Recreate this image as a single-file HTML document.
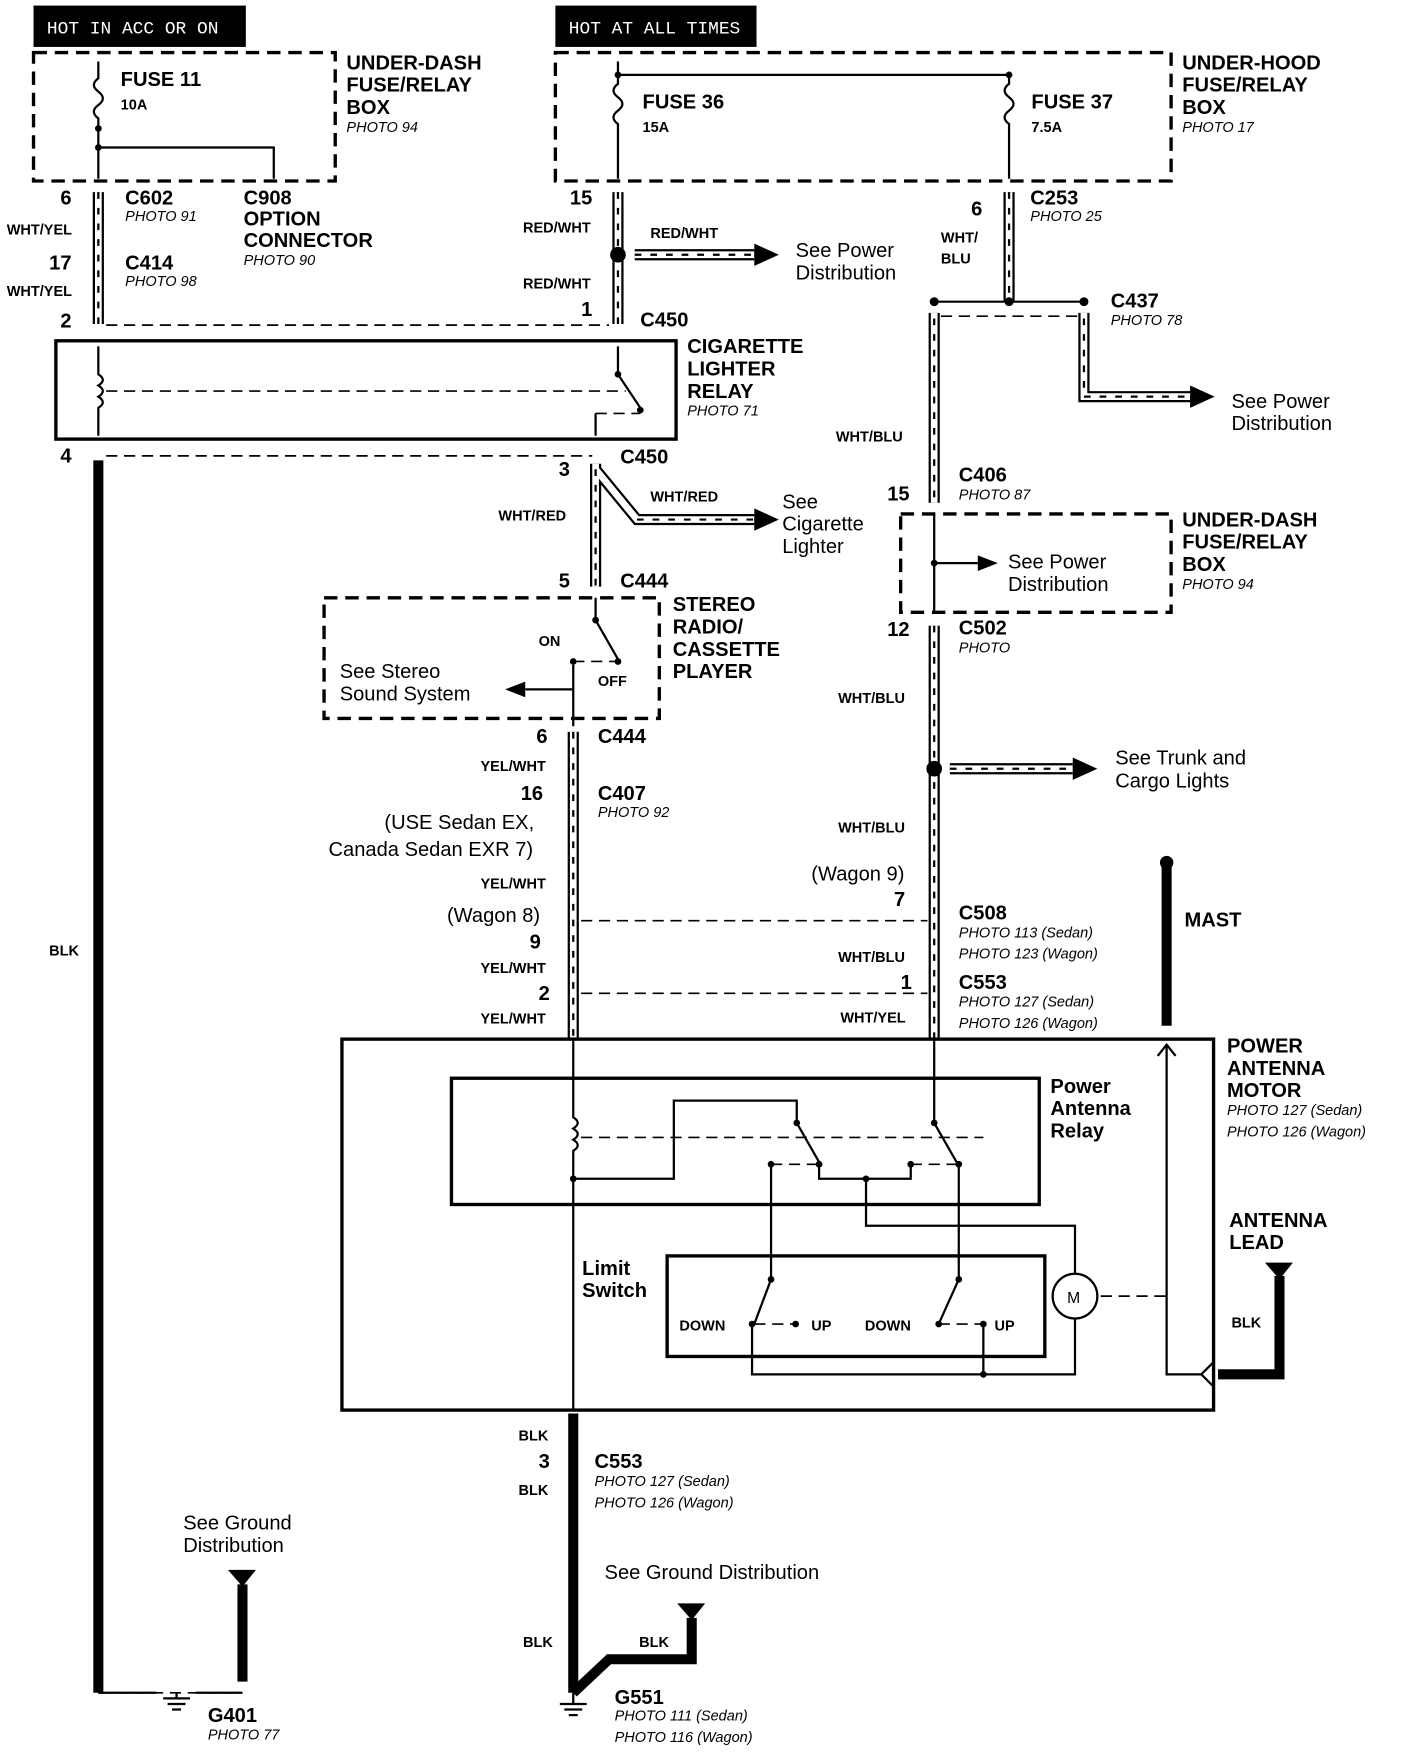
<!DOCTYPE html>
<html><head><meta charset="utf-8"><style>
html,body{margin:0;padding:0;background:#fff;}
svg{display:block;}
text{font-family:"Liberation Sans",sans-serif;fill:#000;}
.b{font-weight:bold;font-size:18px;}
.s{font-weight:bold;font-size:13px;}
.p{font-style:italic;font-size:13px;}
.n{font-size:18px;}
.d{fill:none;stroke:#000;stroke-width:3;stroke-dasharray:12 7;}
.l{fill:none;stroke:#000;stroke-width:2;}
.dl{fill:none;stroke:#000;stroke-width:1.5;stroke-dasharray:10 6;}
.k{fill:none;stroke:#000;stroke-width:9;}
.st{fill:none;stroke:#000;stroke-width:10;}
.sw{fill:none;stroke:#fff;stroke-width:6;}
.sd{fill:none;stroke:#000;stroke-width:2;stroke-dasharray:6 8;}
</style></head><body>
<svg width="1408" height="1752" viewBox="0 0 1260 1568" preserveAspectRatio="none" xmlns="http://www.w3.org/2000/svg">
<rect x="30" y="5" width="190" height="37" fill="#000"/>
<text x="42" y="30" style="fill:#fff;font-size:16px;font-family:'Liberation Mono',monospace">HOT IN ACC OR ON</text>
<rect x="497" y="5" width="180" height="37" fill="#000"/>
<text x="509" y="30" style="fill:#fff;font-size:16px;font-family:'Liberation Mono',monospace">HOT AT ALL TIMES</text>

<rect class="d" x="30" y="47" width="270" height="115"/>
<rect class="d" x="497" y="47" width="551" height="115"/>
<text class="b" x="310" y="62">UNDER-DASH</text><text class="b" x="310" y="82">FUSE/RELAY</text><text class="b" x="310" y="102">BOX</text><text class="p" x="310" y="118">PHOTO 94</text>
<text class="b" x="1058" y="62">UNDER-HOOD</text><text class="b" x="1058" y="82">FUSE/RELAY</text><text class="b" x="1058" y="102">BOX</text><text class="p" x="1058" y="118">PHOTO 17</text>
<text class="b" x="108" y="77">FUSE 11</text><text class="s" x="108" y="98">10A</text>
<text class="b" x="575" y="97">FUSE 36</text><text class="s" x="575" y="118">15A</text>
<text class="b" x="923" y="97">FUSE 37</text><text class="s" x="923" y="118">7.5A</text>
<path class="l" d="M88 55 V70 q-8 6 0 12 q8 6 0 12 q-8 6 0 12 V160 M88 132 H245 V160"/>
<circle cx="88" cy="115" r="3"/><circle cx="88" cy="132" r="3"/>
<path class="l" d="M553 55 V75 q-8 6 0 12 q8 6 0 12 q-8 6 0 12 V160 M553 67 H903 V75 q-8 6 0 12 q8 6 0 12 q-8 6 0 12 V160"/>
<circle cx="553" cy="67" r="3"/><circle cx="903" cy="67" r="3"/>
<text class="b" x="54" y="183">6</text><text class="b" x="112" y="183">C602</text><text class="p" x="112" y="198">PHOTO 91</text>
<text class="b" x="218" y="183">C908</text><text class="b" x="218" y="202">OPTION</text><text class="b" x="218" y="221">CONNECTOR</text><text class="p" x="218" y="237">PHOTO 90</text>
<text class="s" x="6" y="210">WHT/YEL</text><text class="b" x="44" y="241">17</text><text class="b" x="112" y="241">C414</text><text class="p" x="112" y="256">PHOTO 98</text>
<text class="s" x="6" y="265">WHT/YEL</text><text class="b" x="54" y="293">2</text>
<path class="st" d="M88 172 V290"/><path class="sw" d="M88 172 V290"/><path class="sd" d="M88 172 V290"/>
<path class="dl" d="M95 291 H545"/>
<rect x="50" y="305" width="555" height="88" fill="none" stroke="#000" stroke-width="3"/>
<text class="b" x="615" y="316">CIGARETTE</text><text class="b" x="615" y="336">LIGHTER</text><text class="b" x="615" y="356">RELAY</text><text class="p" x="615" y="372">PHOTO 71</text>
<path class="l" d="M88 310 V335 q8 5 0 10 q8 5 0 10 q8 5 0 10 V390 M553 310 V335 L573 365 M533 370 V390"/>
<path class="dl" d="M95 350 H560 M533 370 H573"/>
<circle cx="553" cy="335" r="3"/><circle cx="573" cy="367" r="3"/>
<text class="b" x="54" y="414">4</text>
<path class="dl" d="M95 408 H530"/>
<path class="k" d="M88 412 V1515"/>
<text class="s" x="44" y="855">BLK</text>
<text class="b" x="510" y="183">15</text><text class="s" x="468" y="208">RED/WHT</text><text class="s" x="468" y="258">RED/WHT</text>
<path class="st" d="M553 172 V290"/><path class="sw" d="M553 172 V290"/><path class="sd" d="M553 172 V290"/>
<circle cx="553" cy="228" r="7"/>
<text class="s" x="582" y="213">RED/WHT</text>
<path class="st" d="M568 228 H675"/><path class="sw" d="M568 228 H675"/><path class="sd" d="M568 228 H675"/>
<path d="M675 218 L697 228 L675 238Z"/>
<text class="n" x="712" y="230">See Power</text><text class="n" x="712" y="250">Distribution</text>
<text class="b" x="520" y="283">1</text><text class="b" x="573" y="292">C450</text>
<text class="b" x="500" y="426">3</text><text class="b" x="555" y="415">C450</text>
<text class="s" x="446" y="466">WHT/RED</text><text class="s" x="582" y="449">WHT/RED</text>
<path class="st" d="M533 415 V525 M533 420 L570 465 H675"/><path class="sw" d="M533 415 V525 M533 420 L570 465 H675"/><path class="sd" d="M533 420 V525 M570 465 H675"/>
<path d="M675 455 L697 465 L675 475Z"/>
<text class="n" x="700" y="455">See</text><text class="n" x="700" y="475">Cigarette</text><text class="n" x="700" y="495">Lighter</text>
<text class="b" x="500" y="526">5</text><text class="b" x="555" y="526">C444</text>
<rect class="d" x="290" y="535" width="300" height="108"/>
<text class="b" x="602" y="547">STEREO</text><text class="b" x="602" y="567">RADIO/</text><text class="b" x="602" y="587">CASSETTE</text><text class="b" x="602" y="607">PLAYER</text>
<path class="l" d="M533 535 V555 L553 590 M513 595 V650 M513 617 H470"/>
<path d="M470 610 L452 617 L470 624Z"/>
<path class="dl" d="M513 592 H553"/>
<circle cx="533" cy="555" r="3"/><circle cx="553" cy="592" r="3"/><circle cx="513" cy="592" r="3"/>
<text class="s" x="482" y="578">ON</text><text class="s" x="535" y="614">OFF</text>
<text class="n" x="304" y="607">See Stereo</text><text class="n" x="304" y="627">Sound System</text>
<text class="b" x="480" y="665">6</text><text class="b" x="535" y="665">C444</text>
<path class="st" d="M513 655 V930"/><path class="sw" d="M513 655 V930"/><path class="sd" d="M513 655 V930"/>
<text class="s" x="430" y="690">YEL/WHT</text>
<text class="b" x="466" y="716">16</text><text class="b" x="535" y="716">C407</text><text class="p" x="535" y="731">PHOTO 92</text>
<text class="n" x="344" y="742">(USE Sedan EX,</text><text class="n" x="294" y="766">Canada Sedan EXR 7)</text>
<text class="s" x="430" y="795">YEL/WHT</text>
<text class="n" x="400" y="825">(Wagon 8)</text><text class="b" x="474" y="849">9</text>
<text class="s" x="430" y="871">YEL/WHT</text><text class="b" x="482" y="895">2</text><text class="s" x="430" y="916">YEL/WHT</text>
<path class="dl" d="M520 824 H830 M520 889 H830"/>
<text class="b" x="869" y="193">6</text><text class="b" x="922" y="183">C253</text><text class="p" x="922" y="198">PHOTO 25</text>
<text class="s" x="842" y="217">WHT/</text><text class="s" x="842" y="236">BLU</text>
<path class="st" d="M903 172 V270"/><path class="sw" d="M903 172 V270"/><path class="sd" d="M903 172 V270"/>
<path class="l" d="M836 270 H970"/><circle cx="836" cy="270" r="4"/><circle cx="903" cy="270" r="4"/><circle cx="970" cy="270" r="4"/>
<text class="b" x="994" y="275">C437</text><text class="p" x="994" y="291">PHOTO 78</text>
<path class="dl" d="M842 283 H965"/>
<path class="st" d="M836 280 V450 M970 280 V355 H1065"/><path class="sw" d="M836 280 V450 M970 280 V355 H1065"/><path class="sd" d="M836 285 V450 M970 285 V355 H1065"/>
<path d="M1065 345 L1087 355 L1065 365Z"/>
<text class="n" x="1102" y="365">See Power</text><text class="n" x="1102" y="385">Distribution</text>
<text class="s" x="748" y="395">WHT/BLU</text>
<text class="b" x="794" y="448">15</text><text class="b" x="858" y="431">C406</text><text class="p" x="858" y="447">PHOTO 87</text>
<rect class="d" x="806" y="460" width="242" height="88"/>
<text class="b" x="1058" y="471">UNDER-DASH</text><text class="b" x="1058" y="491">FUSE/RELAY</text><text class="b" x="1058" y="511">BOX</text><text class="p" x="1058" y="527">PHOTO 94</text>
<path class="l" d="M836 460 V548 M836 504 H875"/><path d="M875 497 L893 504 L875 511Z"/><circle cx="836" cy="504" r="3"/>
<text class="n" x="902" y="509">See Power</text><text class="n" x="902" y="529">Distribution</text>
<text class="b" x="794" y="569">12</text><text class="b" x="858" y="568">C502</text><text class="p" x="858" y="584">PHOTO</text>
<path class="st" d="M836 560 V930"/><path class="sw" d="M836 560 V930"/><path class="sd" d="M836 560 V930"/>
<text class="s" x="750" y="629">WHT/BLU</text>
<circle cx="836" cy="688" r="7"/>
<path class="st" d="M850 688 H960"/><path class="sw" d="M850 688 H960"/><path class="sd" d="M850 688 H960"/>
<path d="M960 678 L982 688 L960 698Z"/>
<text class="n" x="998" y="684">See Trunk and</text><text class="n" x="998" y="705">Cargo Lights</text>
<text class="s" x="750" y="745">WHT/BLU</text>
<text class="n" x="726" y="788">(Wagon 9)</text><text class="b" x="800" y="811">7</text>
<text class="b" x="858" y="823">C508</text><text class="p" x="858" y="839">PHOTO 113 (Sedan)</text><text class="p" x="858" y="858">PHOTO 123 (Wagon)</text>
<text class="s" x="750" y="861">WHT/BLU</text><text class="b" x="806" y="885">1</text>
<text class="b" x="858" y="885">C553</text><text class="p" x="858" y="901">PHOTO 127 (Sedan)</text><text class="p" x="858" y="920">PHOTO 126 (Wagon)</text>
<text class="s" x="752" y="915">WHT/YEL</text>
<path class="k" d="M1044 772 V918"/><circle cx="1044" cy="772" r="6"/>
<text class="b" x="1060" y="829">MAST</text>
<rect x="306" y="930" width="780" height="332" fill="none" stroke="#000" stroke-width="3"/>
<text class="b" x="1098" y="942">POWER</text><text class="b" x="1098" y="962">ANTENNA</text><text class="b" x="1098" y="982">MOTOR</text>
<text class="p" x="1098" y="998">PHOTO 127 (Sedan)</text><text class="p" x="1098" y="1017">PHOTO 126 (Wagon)</text>
<rect x="404" y="965" width="526" height="113" fill="none" stroke="#000" stroke-width="3"/>
<text class="b" x="940" y="978">Power</text><text class="b" x="940" y="998">Antenna</text><text class="b" x="940" y="1018">Relay</text>
<path class="l" d="M513 930 V1000 q8 5 0 10 q8 5 0 10 q8 5 0 10 V1262 M513 1055 H603 V985 H713 V1005 L733 1040 M836 930 V1005 L856 1040 M690 1042 V1145 L675 1185 M775 1055 V1097 H962 V1140 M815 1042 V1055 H775 M733 1042 V1055 H775 M858 1042 V1145 L840 1185 M962 1180 V1230 H673 V1185 M880 1185 V1230 M1044 935 V1230 H1075"/>
<path class="dl" d="M520 1018 H880 M690 1042 H733 M815 1042 H858 M675 1185 H712 M840 1185 H880 M985 1160 H1044"/>
<circle cx="713" cy="1005" r="3"/><circle cx="836" cy="1005" r="3"/><circle cx="733" cy="1042" r="3"/><circle cx="690" cy="1042" r="3"/><circle cx="815" cy="1042" r="3"/><circle cx="858" cy="1042" r="3"/><circle cx="775" cy="1055" r="3"/><circle cx="513" cy="1055" r="3"/>
<circle cx="690" cy="1145" r="3"/><circle cx="858" cy="1145" r="3"/><circle cx="712" cy="1185" r="3"/><circle cx="880" cy="1185" r="3"/><circle cx="673" cy="1185" r="3"/><circle cx="840" cy="1185" r="3"/><circle cx="880" cy="1230" r="3"/>
<path class="l" d="M1036 945 L1044 935 L1052 945 M1085 1220 L1075 1230 L1085 1240"/>
<text class="b" x="521" y="1141">Limit</text><text class="b" x="521" y="1161">Switch</text>
<rect x="597" y="1124" width="338" height="90" fill="none" stroke="#000" stroke-width="3"/>
<circle cx="962" cy="1160" r="20" fill="#fff" stroke="#000" stroke-width="2"/><text x="955" y="1166" style="font-size:14px">M</text>
<text class="s" x="608" y="1191">DOWN</text><text class="s" x="726" y="1191">UP</text><text class="s" x="774" y="1191">DOWN</text><text class="s" x="890" y="1191">UP</text>
<text class="b" x="1100" y="1098">ANTENNA</text><text class="b" x="1100" y="1118">LEAD</text>
<path d="M1132 1130 H1157 L1145 1145Z"/><path class="k" d="M1145 1142 V1230 H1090"/>
<text class="s" x="1102" y="1188">BLK</text>
<path class="k" d="M513 1265 V1515"/>
<text class="s" x="464" y="1289">BLK</text><text class="b" x="482" y="1314">3</text>
<text class="b" x="532" y="1314">C553</text><text class="p" x="532" y="1330">PHOTO 127 (Sedan)</text><text class="p" x="532" y="1349">PHOTO 126 (Wagon)</text>
<text class="s" x="464" y="1338">BLK</text>
<text class="n" x="541" y="1413">See Ground Distribution</text>
<text class="s" x="468" y="1474">BLK</text><text class="s" x="572" y="1474">BLK</text>
<path d="M606 1435 H631 L619 1450Z"/><path class="k" d="M619 1448 V1485 H545 L513 1515"/>
<text class="n" x="164" y="1369">See Ground</text><text class="n" x="164" y="1389">Distribution</text>
<path d="M204 1405 H229 L217 1420Z"/><path class="k" d="M217 1418 V1505"/>
<path class="dl" d="M88 1515 H217"/>
<path class="l" d="M88 1515 H140 M175 1515 H217 M158 1515 V1520 M146 1520 H170 M150 1525 H166 M154 1530 H162 M513 1515 V1525 M501 1525 H525 M505 1530 H521 M509 1535 H517"/>
<text class="b" x="186" y="1541">G401</text><text class="p" x="186" y="1557">PHOTO 77</text>
<text class="b" x="550" y="1525">G551</text><text class="p" x="550" y="1540">PHOTO 111 (Sedan)</text><text class="p" x="550" y="1559">PHOTO 116 (Wagon)</text>
</svg>
</body></html>
